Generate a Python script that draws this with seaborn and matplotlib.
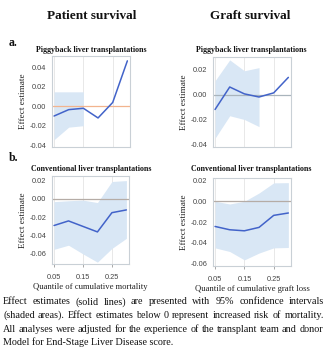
import matplotlib
matplotlib.use("Agg")
import matplotlib.pyplot as plt
from matplotlib.textpath import TextPath
from matplotlib.font_manager import FontProperties
import seaborn as sns
import pandas as pd
import numpy as np

sns.set_theme(style="white")
plt.rcParams['font.family'] = ['Liberation Sans', 'DejaVu Sans']

quantiles = [0.05, 0.10, 0.15, 0.20, 0.25, 0.30]

# Patient survival, piggyback
pp_est = [-0.010, -0.0034, -0.002, -0.012, 0.004, 0.047]
pp_ci_x = [0.05, 0.10, 0.15]
pp_lo = [-0.0345, -0.0215, -0.020]
pp_hi = [0.015, 0.015, 0.015]

# Graft survival, piggyback
gp_est = [-0.012, 0.006, 0.0005, -0.002, 0.0013, 0.0137]
gp_ci_x = [0.05, 0.10, 0.15, 0.20]
gp_lo = [-0.035, -0.017, -0.020, -0.0257]
gp_hi = [0.011, 0.0277, 0.019, 0.0215]

# Patient survival, conventional
pc_est = [-0.029, -0.024, -0.030, -0.036, -0.015, -0.012]
pc_lo = [-0.055, -0.0505, -0.060, -0.069, -0.054, -0.043]
pc_hi = [-0.003, -0.002, -0.0013, -0.004, 0.019, 0.020]

# Graft survival, conventional
gc_est = [-0.0243, -0.0275, -0.0285, -0.0252, -0.0136, -0.0113]
gc_lo = [-0.045, -0.0485, -0.0566, -0.050, -0.045, -0.0446]
gc_hi = [0.000, -0.0026, 0.000, 0.008, 0.0178, 0.018]

xticks = [0.05, 0.15, 0.25]
xtick_labels = ["0.05", "0.15", "0.25"]

col_titles = ["Patient survival", "Graft survival"]
panel_titles = ["Piggyback liver transplantations", "Conventional liver transplantations"]
xlabels = ["Quantile of cumulative mortality", "Quantile of cumulative graft loss"]
row_letters = ["a.", "b."]
caption_lines = [
    "Effect estimates (solid lines) are presented with 95% confidence intervals",
    "(shaded areas). Effect estimates below 0 represent increased risk of mortality.",
    "All analyses were adjusted for the experience of the transplant team and donor",
    "Model for End-Stage Liver Disease score.",
]

W, H = 327, 359
fig = plt.figure(figsize=(W / 100, H / 100), dpi=100)

def ax_px(x0, y0, x1, y1):
    return fig.add_axes([x0 / W, 1 - y1 / H, (x1 - x0) / W, (y1 - y0) / H])

panels = [
    dict(box=(52, 56, 130, 147), est=pp_est, cx=pp_ci_x, lo=pp_lo, hi=pp_hi,
         ylim=(-0.042, 0.052), yt=[-0.04, -0.02, 0.0, 0.02, 0.04], zc="#f2b48e", bottom=False),
    dict(box=(213, 57, 291, 147), est=gp_est, cx=gp_ci_x, lo=gp_lo, hi=gp_hi,
         ylim=(-0.042, 0.030), yt=[-0.04, -0.02, 0.0, 0.02], zc="#a9b4bc", bottom=False),
    dict(box=(52, 176, 129, 264), est=pc_est, cx=quantiles, lo=pc_lo, hi=pc_hi,
         ylim=(-0.071, 0.025), yt=[-0.06, -0.04, -0.02, 0.0, 0.02], zc="#b5aca6", bottom=True,
         xl=xlabels[0]),
    dict(box=(213, 178, 291, 266), est=gc_est, cx=quantiles, lo=gc_lo, hi=gc_hi,
         ylim=(-0.0625, 0.0225), yt=[-0.06, -0.04, -0.02, 0.0, 0.02], zc="#b5aca6", bottom=True,
         xl=xlabels[1]),
]

for p in panels:
    ax = ax_px(*p["box"])
    df = pd.DataFrame({"q": quantiles, "est": p["est"]})
    ax.fill_between(p["cx"], p["lo"], p["hi"], color="#d9e7f5", linewidth=0, zorder=1)
    ax.axhline(0, color=p["zc"], lw=0.9, zorder=2)
    sns.lineplot(data=df, x="q", y="est", ax=ax, color="#4263c9", lw=1.1, zorder=3)
    ax.set_xlim(0.043, 0.309)
    ax.set_ylim(*p["ylim"])
    ax.set_yticks(p["yt"])
    ax.set_yticklabels([f"{v:.2f}" for v in p["yt"]], fontsize=5.3, color="#444444")
    ax.set_xticks(xticks)
    ax.grid(axis="x", color="#e4e4e4", lw=0.6)
    ax.grid(axis="y", visible=False)
    for s in ax.spines.values():
        s.set_color("#c9d0d6")
        s.set_linewidth(0.8)
    ax.tick_params(axis="y", length=2.5, width=0.6, color="#999999", pad=1.5)
    if p["bottom"]:
        ax.set_xticklabels(xtick_labels, fontsize=5.3, color="#444444")
        ax.tick_params(axis="x", length=2.5, width=0.6, color="#999999", pad=4.5, bottom=True)
        ax.set_xlabel(p["xl"], fontsize=6.2, family=["Liberation Serif"], labelpad=1.5, color="#222222")
    else:
        ax.set_xticklabels([])
        ax.tick_params(axis="x", length=0)
        ax.set_xlabel("")
    ax.set_ylabel("Effect estimate", fontsize=6.6, family=["Liberation Serif"], labelpad=2, color="#222222")

serif = ["Liberation Serif", "DejaVu Serif"]
fig.text(92 / W, 1 - 16 / H, col_titles[0], ha="center", va="center", fontsize=9.5,
         fontweight="bold", family=serif, color="#111111")
fig.text(250 / W, 1 - 16 / H, col_titles[1], ha="center", va="center", fontsize=9.5,
         fontweight="bold", family=serif, color="#111111")
fig.text(9 / W, 1 - 43 / H, row_letters[0], ha="left", va="center", fontsize=8.5,
         fontweight="bold", family=serif, color="#111111")
fig.text(9 / W, 1 - 158 / H, row_letters[1], ha="left", va="center", fontsize=8.5,
         fontweight="bold", family=serif, color="#111111")
for x, y, t in [(91, 50, panel_titles[0]), (251, 50, panel_titles[0]),
                (91, 169, panel_titles[1]), (251, 169, panel_titles[1])]:
    fig.text(x / W, 1 - y / H, t, ha="center", va="center", fontsize=5.7,
             fontweight="bold", family=serif, color="#111111")

# justified caption, measured with TextPath (points -> pixels at 100 dpi)
fp = FontProperties(family="Liberation Serif")

def text_w(s, fs):
    ext = TextPath((0, 0), s, size=fs, prop=fp).get_extents()
    return ext.x1 * 100 / 72.0

left_px, right_px = 3, 323
ref_fs = 10.0
max_nat = max(text_w(l, ref_fs) for l in caption_lines[:3])
cap_fs = ref_fs * (right_px - left_px - 3) / max_nat

line_y = [302, 315.5, 329, 342.5]
for i, (line, yy) in enumerate(zip(caption_lines, line_y)):
    words = line.split(" ")
    justify = i < len(caption_lines) - 1
    if not justify:
        fig.text(left_px / W, 1 - yy / H, line, ha="left", va="center", fontsize=cap_fs,
                 family=serif, color="#111111")
        continue
    widths = [text_w(w, cap_fs) for w in words]
    gap = (right_px - left_px - sum(widths)) / (len(words) - 1)
    x = left_px
    for w, wd in zip(words, widths):
        fig.text(x / W, 1 - yy / H, w, ha="left", va="center", fontsize=cap_fs,
                 family=serif, color="#111111")
        x += wd + gap

fig.savefig("out.png", dpi=100)
